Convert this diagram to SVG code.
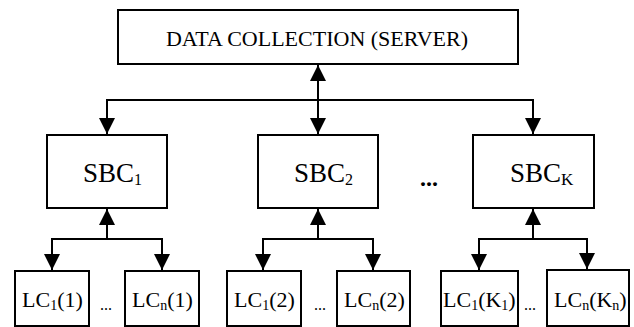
<svg xmlns="http://www.w3.org/2000/svg" width="634" height="327" viewBox="0 0 634 327">
<defs>
<style>
.box{fill:#fff;stroke:#000;stroke-width:2}
.ln{fill:none;stroke:#000;stroke-width:2}
.t{font-family:"Liberation Serif","Times New Roman",serif;fill:#000}
.big{font-size:27px}
.lc{font-size:22px}
.sub{font-size:14px}
</style>
<marker id="ah" viewBox="0 0 16 16" markerWidth="16" markerHeight="16" refX="16" refY="8" orient="auto" markerUnits="userSpaceOnUse">
<path d="M0,0 L16,8 L0,16 Z" fill="#000"/>
</marker>
</defs>
<rect width="634" height="327" fill="#fff"/>
<g id="connectors">
<line class="ln" x1="318" y1="100" x2="318" y2="65" marker-end="url(#ah)"/>
<polyline class="ln" points="318,100 107,100 107,134" marker-end="url(#ah)"/>
<polyline class="ln" points="318,100 533,100 533,134" marker-end="url(#ah)"/>
<line class="ln" x1="318" y1="100" x2="318" y2="134" marker-end="url(#ah)"/>
<line class="ln" x1="107" y1="239" x2="107" y2="209" marker-end="url(#ah)"/>
<polyline class="ln" points="107,239 52,239 52,270" marker-end="url(#ah)"/>
<polyline class="ln" points="107,239 162,239 162,270" marker-end="url(#ah)"/>
<line class="ln" x1="318" y1="239" x2="318" y2="209" marker-end="url(#ah)"/>
<polyline class="ln" points="318,239 263,239 263,270" marker-end="url(#ah)"/>
<polyline class="ln" points="318,239 373,239 373,270" marker-end="url(#ah)"/>
<line class="ln" x1="533" y1="239" x2="533" y2="209" marker-end="url(#ah)"/>
<polyline class="ln" points="533,239 479,239 479,270" marker-end="url(#ah)"/>
<polyline class="ln" points="533,239 587,239 587,269" marker-end="url(#ah)"/>
</g>
<g id="server">
<rect class="box" x="118" y="10" width="400" height="54"/>
<text class="t" x="317" y="46" font-size="22" text-anchor="middle">DATA COLLECTION (SERVER)</text>
</g>
<g id="sbc1">
<rect class="box" x="47" y="135" width="120" height="73"/>
<text class="t big" x="83" y="182">SBC<tspan font-size="16" dy="3">1</tspan></text>
</g>
<g id="sbc2">
<rect class="box" x="258" y="135" width="120" height="73"/>
<text class="t big" x="294" y="182">SBC<tspan font-size="16" dy="3">2</tspan></text>
</g>
<g id="dots">
<text class="t" x="429" y="186" font-size="24" font-weight="bold" text-anchor="middle">...</text>
</g>
<g id="sbck">
<rect class="box" x="473" y="135" width="121" height="73"/>
<text class="t big" x="510" y="182">SBC<tspan font-size="17" dy="3">K</tspan></text>
</g>
<g id="lc1-1">
<rect class="box" x="15" y="271" width="74" height="55"/>
<text class="t lc" x="22" y="307">LC<tspan class="sub" dy="3">1</tspan><tspan dy="-3">(1)</tspan></text>
</g>
<g id="lcn-1">
<rect class="box" x="125" y="271" width="74" height="55"/>
<text class="t lc" x="132" y="307">LC<tspan class="sub" dy="3">n</tspan><tspan dy="-3">(1)</tspan></text>
</g>
<g id="lc1-2">
<rect class="box" x="227" y="271" width="74" height="55"/>
<text class="t lc" x="234" y="307">LC<tspan class="sub" dy="3">1</tspan><tspan dy="-3">(2)</tspan></text>
</g>
<g id="lcn-2">
<rect class="box" x="337" y="271" width="73" height="55"/>
<text class="t lc" x="344" y="307">LC<tspan class="sub" dy="3">n</tspan><tspan dy="-3">(2)</tspan></text>
</g>
<g id="lc1-k1">
<rect class="box" x="441" y="271" width="77" height="55"/>
<text class="t lc" x="443" y="307">LC<tspan class="sub" dy="3">1</tspan><tspan dy="-3">(K</tspan><tspan class="sub" dy="3">1</tspan><tspan dy="-3">)</tspan></text>
</g>
<g id="lcn-kn">
<rect class="box" x="547" y="270" width="82" height="56"/>
<text class="t lc" x="554" y="307">LC<tspan class="sub" dy="3">n</tspan><tspan dy="-3">(K</tspan><tspan class="sub" dy="3">n</tspan><tspan dy="-3">)</tspan></text>
</g>
<g id="ellipses">
<text class="t" x="106" y="310" font-size="16" text-anchor="middle">...</text>
<text class="t" x="320" y="310" font-size="16" text-anchor="middle">...</text>
<text class="t" x="530" y="310" font-size="16" text-anchor="middle">...</text>
</g>
</svg>
